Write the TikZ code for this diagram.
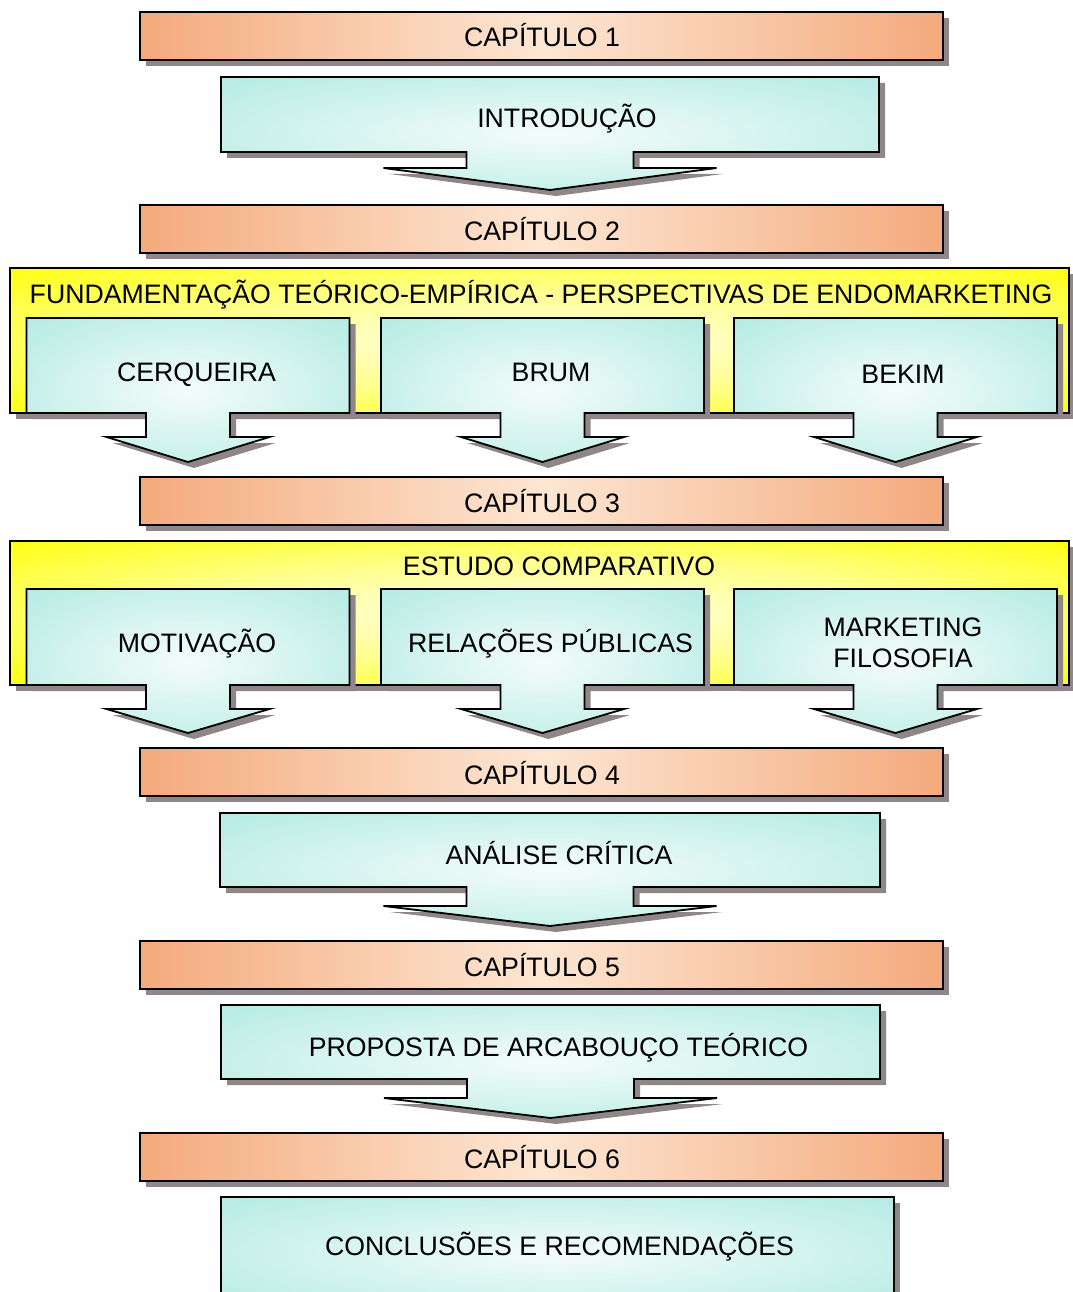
\documentclass[tikz,border=0pt]{standalone}
\usepackage{fontspec}
\setmainfont{Liberation Sans}
\usetikzlibrary{calc}

\definecolor{orEdge}{HTML}{F4AA7C}
\definecolor{orMid}{HTML}{FDE6D3}
\definecolor{cyOut}{HTML}{ACE9E0}
\definecolor{cyIn}{HTML}{F4FCFA}
\definecolor{yeOut}{HTML}{FFFF00}
\definecolor{yeIn}{HTML}{FFFFE6}
\definecolor{shadowgray}{HTML}{8F8787}

% soft glow for the cyan callouts and the yellow frames
\pgfdeclareradialshading{glowC}{\pgfpoint{0bp}{0bp}}{color(0bp)=(cyIn); color(12bp)=(cyIn!70!cyOut); color(40bp)=(cyOut); color(50bp)=(cyOut)}
\pgfdeclareradialshading{glowY}{\pgfpoint{0bp}{0bp}}{color(0bp)=(yeIn); color(18bp)=(yeIn!60!yeOut); color(38bp)=(yeOut); color(50bp)=(yeOut)}

\tikzset{
  outline/.style={draw=black, line width=1.8pt, line join=miter},
  shadowfill/.style={fill=shadowgray, shift={(6,6)}},
  chapterbar/.style={outline, left color=orEdge, right color=orEdge, middle color=orMid},
  calloutfill/.style={outline, shading=glowC},
  framefill/.style={outline, shading=glowY},
  lbl/.style={font=\fontsize{26.7}{31}\selectfont, inner sep=0pt, text height=19pt, text depth=0pt, anchor=center},
  lbltwo/.style={font=\fontsize{26.7}{31}\selectfont, inner sep=0pt, align=center, anchor=center}
}

% chapter bar: y-top, y-bottom
\newcommand{\chapbar}[2]{%
  \fill[shadowfill] (140,#1) rectangle (943,#2);
  \shade[chapterbar] (140,#1) rectangle (943,#2);
}

% callout: cx, half width, top, bottom, stem half width, wing half width, head top, tip
\newcommand{\calloutpath}[8]{%
  ({#1-#2},#3) -- ({#1+#2},#3) -- ({#1+#2},#4) -- ({#1+#5},#4) -- ({#1+#5},#7)
  -- ({#1+#6},#7) -- (#1,#8) -- ({#1-#6},#7) -- ({#1-#5},#7) -- ({#1-#5},#4)
  -- ({#1-#2},#4) -- cycle}
\newcommand{\callout}[8]{%
  \fill[shadowfill] \calloutpath{#1}{#2}{#3}{#4}{#5}{#6}{#7}{#8};
  \shade[calloutfill] \calloutpath{#1}{#2}{#3}{#4}{#5}{#6}{#7}{#8};
}

% yellow frame: top, bottom
\newcommand{\yframe}[2]{%
  \fill[shadowfill] (10,#1) rectangle (1069,#2);
  \shade[framefill] (10,#1) rectangle (1069,#2);
}

\begin{document}
\begin{tikzpicture}[x=1pt, y=-1pt]
\useasboundingbox (0,0) rectangle (1072,1292);
\fill[white] (0,0) rectangle (1072,1292);

% ---------- chapter 1 ----------
\chapbar{12}{60}
\node[lbl] (cap1) at (542,37.5) {CAPÍTULO 1};
\callout{550}{329}{77}{152}{83.5}{166.5}{168}{190}
\node[lbl] (intro) at (567,118) {INTRODUÇÃO};

% ---------- chapter 2 ----------
\chapbar{205}{253}
\node[lbl] (cap2) at (542,230.5) {CAPÍTULO 2};
\yframe{268}{413}
\node[lbl] (fund) at (541,294) {FUNDAMENTAÇÃO TEÓRICO-EMPÍRICA - PERSPECTIVAS DE ENDOMARKETING};
\callout{188}{161.5}{318}{413}{42}{81.5}{437}{462}
\callout{542.5}{161.5}{318}{413}{42}{81.5}{437}{462}
\callout{895.5}{161.5}{318}{413}{42}{81.5}{437}{462}
\node[lbl] (cerq) at (196.5,372) {CERQUEIRA};
\node[lbl] (brum) at (551,372) {BRUM};
\node[lbl] (bekim) at (903,374) {BEKIM};

% ---------- chapter 3 ----------
\chapbar{477}{525}
\node[lbl] (cap3) at (542,502.5) {CAPÍTULO 3};
\yframe{541}{685}
\node[lbl] (estudo) at (559,566) {ESTUDO COMPARATIVO};
\callout{188}{161.5}{589}{685}{42}{81.5}{709}{733}
\callout{542.5}{161.5}{589}{685}{42}{81.5}{709}{733}
\callout{895.5}{161.5}{589}{685}{42}{81.5}{709}{733}
\node[lbl] (motiv) at (197,643) {MOTIVAÇÃO};
\node[lbl] (relac) at (550.5,643) {RELAÇÕES PÚBLICAS};
\node[lbltwo] (mkt) at (903,643) {MARKETING\\FILOSOFIA};

% ---------- chapter 4 ----------
\chapbar{748}{796}
\node[lbl] (cap4) at (542,774.5) {CAPÍTULO 4};
\callout{550}{330}{813}{887}{83.5}{166.5}{906}{926}
\node[lbl] (analise) at (559,855) {ANÁLISE CRÍTICA};

% ---------- chapter 5 ----------
\chapbar{941}{989}
\node[lbl] (cap5) at (542,966.5) {CAPÍTULO 5};
\callout{550.5}{329.5}{1005}{1079}{83.5}{166.5}{1098}{1118}
\node[lbl] (proposta) at (558.5,1047) {PROPOSTA DE ARCABOUÇO TEÓRICO};

% ---------- chapter 6 ----------
\chapbar{1133}{1181}
\node[lbl] (cap6) at (542,1158.5) {CAPÍTULO 6};
\fill[shadowfill] (221,1197) rectangle (894,1310);
\shade[calloutfill] (221,1197) rectangle (894,1310);
\node[lbl] (concl) at (559.5,1246) {CONCLUSÕES E RECOMENDAÇÕES};
\end{tikzpicture}
\end{document}
